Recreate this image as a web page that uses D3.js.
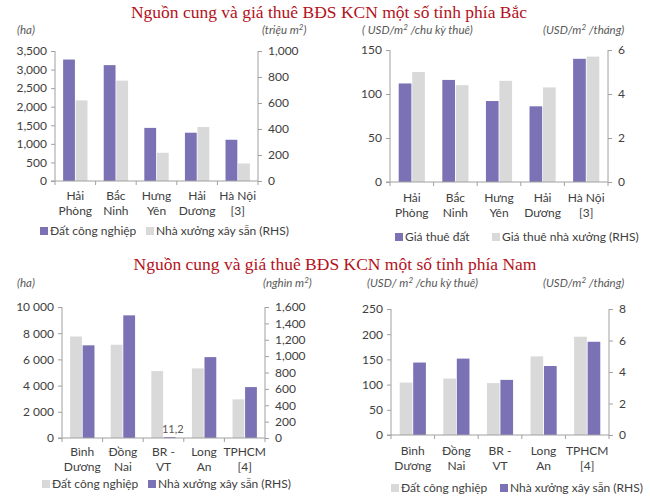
<!DOCTYPE html>
<html><head><meta charset="utf-8">
<script src="https://cdn.jsdelivr.net/npm/d3@7"></script>
<style>body{margin:0;background:#fff}svg{display:block}</style>
</head><body>
<svg id="c" width="650" height="504"></svg>
<script>
// ---- data ----
const titleNorth = "Nguồn cung và giá thuê BĐS KCN một số tỉnh phía Bắc";
const titleSouth = "Nguồn cung và giá thuê BĐS KCN một số tỉnh phía Nam";
const northCats = [["Hải","Phòng"],["Bắc","Ninh"],["Hưng","Yên"],["Hải","Dương"],["Hà Nội","[3]"]];
const southCats = [["Bình","Dương"],["Đồng","Nai"],["BR -","VT"],["Long","An"],["TPHCM","[4]"]];

const n1Land = [3270, 3120, 1430, 1300, 1110];      // ha (LHS)
const n1Factory = [620, 772, 217, 415, 135];        // triệu m2 (RHS)
const n2LandRent = [112, 116, 92, 86, 140];         // USD/m2/chu kỳ thuê
const n2FactoryRent = [5.0, 4.4, 4.6, 4.3, 5.7];    // USD/m2/tháng (RHS)

const s1Land = [7750, 7120, 5110, 5310, 2950];      // ha (LHS)
const s1Factory = [1132, 1498, 11.2, 988, 622];     // nghìn m2 (RHS)
const s2LandRent = [104, 112, 103, 156, 195];       // USD/m2/chu kỳ thuê
const s2FactoryRent = [4.6, 4.85, 3.5, 4.38, 5.92]; // USD/m2/tháng (RHS)

const ticksN1L = [0,500,1000,1500,2000,2500,3000,3500];
const ticksN1R = [0,200,400,600,800,1000];
const ticksN2L = [0,50,100,150];
const ticksN2R = [0,2,4,6];
const ticksS1L = [0,2000,4000,6000,8000,10000];
const ticksS1R = [0,200,400,600,800,1000,1200,1400,1600];
const ticksS2L = [0,50,100,150,200,250];
const ticksS2R = [0,2,4,6,8];

const PURPLE = "#7b72b6", GREY = "#d9d9d9", AXIS = "#a0a0a0", TXT = "#404040", UNIT = "#595959";
const FONT = "Lato, 'Open Sans', sans-serif";
const UFS = 11.5;

const svg = d3.select("#c");

svg.append("text").attr("x",329).attr("y",18).attr("text-anchor","middle")
  .attr("font-family","'Liberation Serif', 'Times New Roman', serif").attr("font-size",17.5)
  .attr("fill","#b3121c").text(titleNorth);
svg.append("text").attr("x",335).attr("y",270).attr("text-anchor","middle")
  .attr("font-family","'Liberation Serif', 'Times New Roman', serif").attr("font-size",17.5)
  .attr("fill","#b3121c").text(titleSouth);

const fmtComma = d3.format(",");
const fmtSpace = d => d3.format(",")(d).replace(/,/g," ");

function chart(o){
  const g = svg.append("g");
  const x0 = d3.scaleBand().domain(d3.range(o.cats.length)).range([o.left,o.right]).paddingInner(0.4).paddingOuter(0.2);
  const x1 = d3.scaleBand().domain([0,1]).range([0,x0.bandwidth()]).paddingInner(0.06);
  const yL = d3.scaleLinear().domain([0,o.maxL]).range([o.bottom,o.top]);
  const yR = d3.scaleLinear().domain([0,o.maxR]).range([o.bottom,o.top]);
  const series = [{vals:o.s0, y:o.s0axis==="L"?yL:yR, color:o.c0},{vals:o.s1, y:o.s1axis==="L"?yL:yR, color:o.c1}];
  series.forEach((s,si)=>{
    g.selectAll(null).data(s.vals).enter().append("rect")
      .attr("x",(d,i)=>x0(i)+x1(si)).attr("width",x1.bandwidth())
      .attr("y",d=>s.y(d)).attr("height",d=>Math.max(1,o.bottom-s.y(d)))
      .attr("fill",s.color);
  });
  const aL = g.append("g").attr("transform",`translate(${o.left},0)`)
    .call(d3.axisLeft(yL).tickValues(o.tL).tickFormat(o.fL).tickSize(4).tickPadding(4));
  const aR = g.append("g").attr("transform",`translate(${o.right},0)`)
    .call(d3.axisRight(yR).tickValues(o.tR).tickFormat(o.fR).tickSize(4).tickPadding(6));
  [aL,aR].forEach(a=>{
    a.select(".domain").attr("stroke",AXIS).attr("d",`M0,${o.top}V${o.bottom}`);
    a.selectAll(".tick line").attr("stroke",AXIS);
    a.selectAll("text").attr("font-family",FONT).attr("font-size",12).attr("fill",TXT);
  });
  const bounds = d3.range(o.cats.length+1).map(i=> o.left + i*x0.step());
  g.append("line").attr("x1",o.left-4).attr("x2",o.right).attr("y1",o.bottom).attr("y2",o.bottom).attr("stroke",AXIS);
  g.selectAll(null).data(bounds).enter().append("line")
    .attr("x1",d=>d).attr("x2",d=>d).attr("y1",o.bottom).attr("y2",o.bottom+4).attr("stroke",AXIS);
  o.cats.forEach((c,i)=>{
    const cx = x0(i)+x0.bandwidth()/2;
    c.forEach((line,k)=>{
      g.append("text").attr("x",cx).attr("y",o.bottom+o.labOff+k*15).attr("text-anchor","middle")
        .attr("font-family",FONT).attr("font-size",12).attr("fill",TXT).text(line);
    });
  });
  g.append("text").attr("x",o.uL[0]).attr("y",o.uL[1]).attr("text-anchor","start")
    .attr("font-family",FONT).attr("font-style","italic").attr("font-size",UFS).attr("fill",UNIT).html(o.uL[2]);
  g.append("text").attr("x",o.uR[0]).attr("y",o.uR[1]).attr("text-anchor","start")
    .attr("font-family",FONT).attr("font-style","italic").attr("font-size",UFS).attr("fill",UNIT).html(o.uR[2]);
  o.leg.forEach(l=>{
    g.append("rect").attr("x",l.x).attr("y",o.legY-4).attr("width",8).attr("height",8).attr("fill",l.c);
    g.append("text").attr("x",l.x+10).attr("y",o.legY+4).attr("font-family",FONT).attr("font-size",12).attr("fill",TXT).text(l.t);
  });
  return {x0,x1,yL,yR,g};
}
const sup = '<tspan font-size="8" dy="-4">2</tspan>';

chart({cats:northCats,left:55,right:258,top:51,bottom:181,maxL:3500,maxR:1000,
  s0:n1Land,s0axis:"L",c0:PURPLE,s1:n1Factory,s1axis:"R",c1:GREY,
  tL:ticksN1L,tR:ticksN1R,fL:fmtComma,fR:fmtComma,labOff:19,
  uL:[17,34,"(ha)"],uR:[262,34,'(triệu m'+sup+'<tspan dy="4">)</tspan>'],
  legY:231,leg:[{x:40,c:PURPLE,t:"Đất công nghiệp"},{x:146,c:GREY,t:"Nhà xưởng xây sẵn (RHS)"}]});

chart({cats:northCats,left:390,right:608,top:50,bottom:182,maxL:150,maxR:6,
  s0:n2LandRent,s0axis:"L",c0:PURPLE,s1:n2FactoryRent,s1axis:"R",c1:GREY,
  tL:ticksN2L,tR:ticksN2R,fL:d=>d,fR:d=>d,labOff:20,
  uL:[362,34,'( USD/m'+sup+'<tspan dy="4"> /chu kỳ thuê)</tspan>'],
  uR:[543,34,'(USD/m'+sup+'<tspan dy="4"> /tháng)</tspan>'],
  legY:237,leg:[{x:395,c:PURPLE,t:"Giá thuê đất"},{x:492,c:GREY,t:"Giá thuê nhà xưởng (RHS)"}]});

const s1 = chart({cats:southCats,left:62,right:265,top:307,bottom:438,maxL:10000,maxR:1600,
  s0:s1Land,s0axis:"L",c0:GREY,s1:s1Factory,s1axis:"R",c1:PURPLE,
  tL:ticksS1L,tR:ticksS1R,fL:fmtSpace,fR:fmtComma,labOff:18,
  uL:[17,287,"(ha)"],uR:[263,287,'(nghìn m'+sup+'<tspan dy="4">)</tspan>'],
  legY:484,leg:[{x:42,c:GREY,t:"Đất công nghiệp"},{x:148,c:PURPLE,t:"Nhà xưởng xây sẵn (RHS)"}]});
s1.g.append("text").attr("x",s1.x0(2)+s1.x1(1)+s1.x1.bandwidth()/2+3).attr("y",s1.yR(s1Factory[2])-4)
  .attr("text-anchor","middle").attr("font-family",FONT).attr("font-size",11).attr("fill",UNIT)
  .text(String(s1Factory[2]).replace(".",","));

chart({cats:southCats,left:391,right:609,top:309,bottom:435,maxL:250,maxR:8,
  s0:s2LandRent,s0axis:"L",c0:GREY,s1:s2FactoryRent,s1axis:"R",c1:PURPLE,
  tL:ticksS2L,tR:ticksS2R,fL:d=>d,fR:d=>d,labOff:20,
  uL:[367,287,'(USD/ m'+sup+'<tspan dy="4"> /chu kỳ thuê)</tspan>'],
  uR:[543,287,'(USD/m'+sup+'<tspan dy="4"> /tháng)</tspan>'],
  legY:488,leg:[{x:391,c:GREY,t:"Đất công nghiệp"},{x:500,c:PURPLE,t:"Nhà xưởng xây sẵn (RHS)"}]});
</script>
</body></html>
